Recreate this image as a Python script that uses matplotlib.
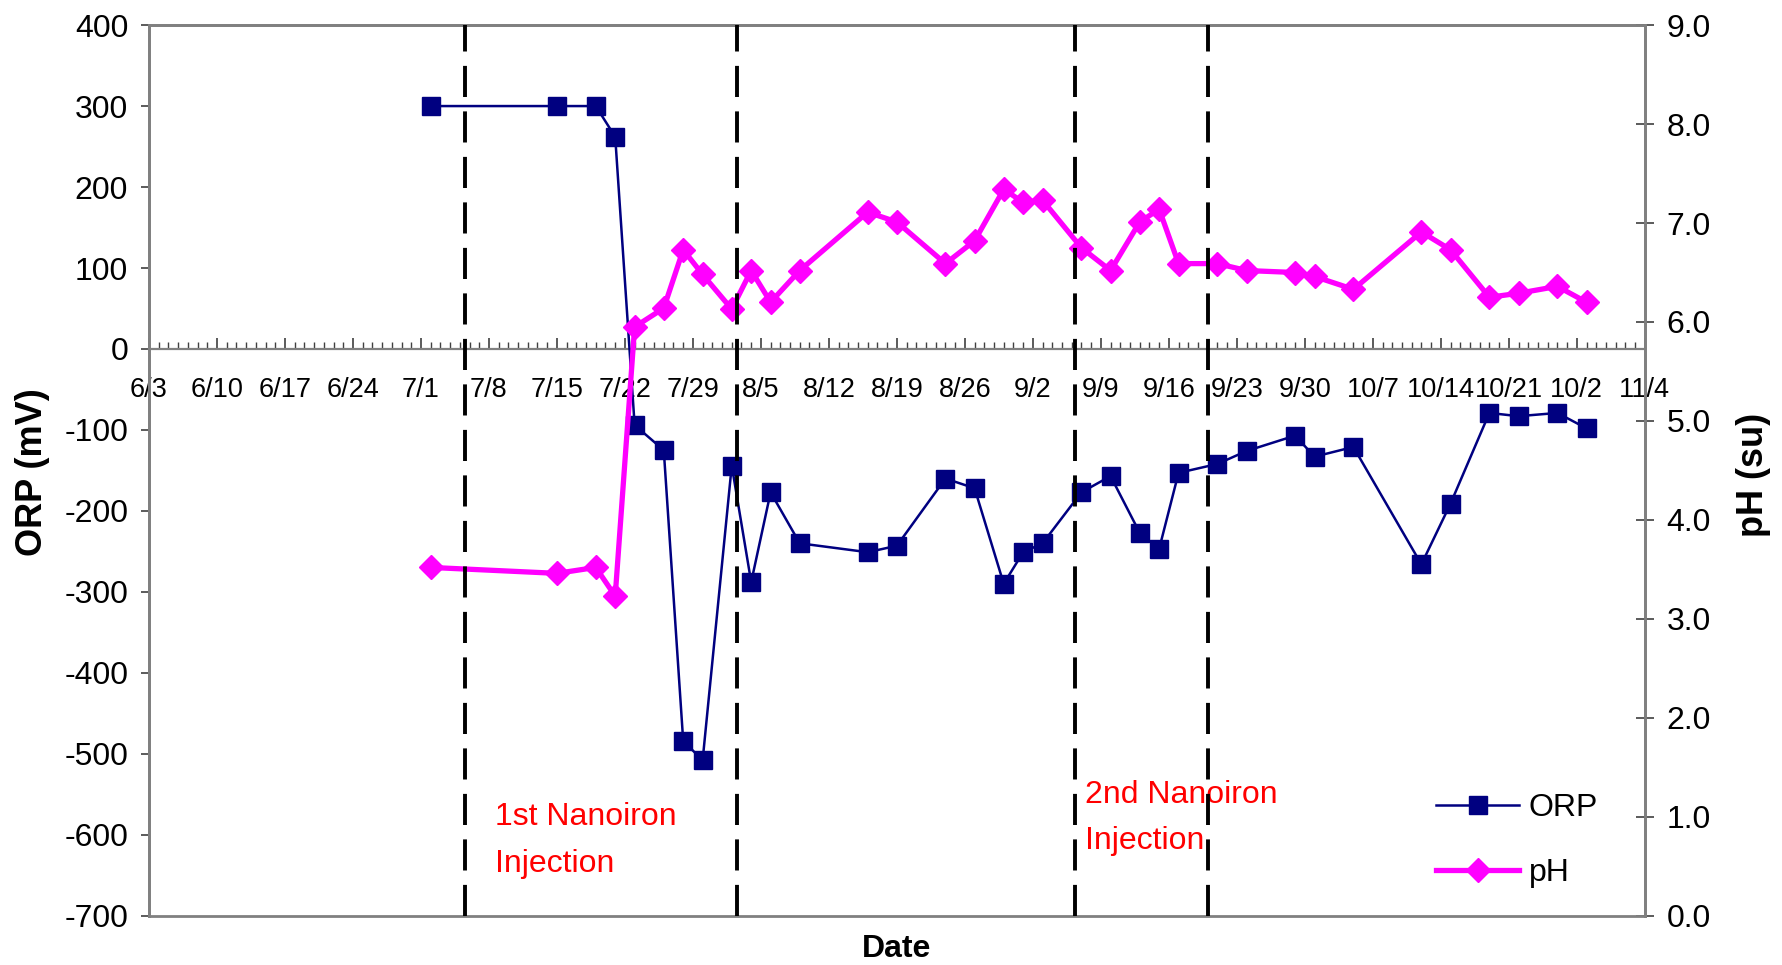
import matplotlib
matplotlib.use("Agg")
import matplotlib.pyplot as plt
import matplotlib.dates as mdates
import pandas as pd

# datas de amostragem (ano fictício, só mês/dia aparecem)
datas = ['7/2', '7/15', '7/19', '7/21', '7/23', '7/26', '7/28', '7/30', '8/2', '8/4',
         '8/6', '8/9', '8/16', '8/19', '8/24', '8/27', '8/30', '9/1', '9/3', '9/7',
         '9/10', '9/13', '9/15', '9/17', '9/21', '9/24', '9/29', '10/1', '10/5', '10/12',
         '10/15', '10/19', '10/22', '10/26', '10/29']
orp = [300, 300, 300, 262, -94, -125, -484, -508, -144, -288,
       -177, -240, -251, -243, -160, -172, -290, -251, -240, -177,
       -157, -227, -247, -153, -142, -126, -107, -133, -121, -266,
       -191, -79, -83, -79, -98]
ph = [3.52, 3.46, 3.52, 3.23, 5.95, 6.14, 6.73, 6.48, 6.13, 6.52,
      6.20, 6.52, 7.11, 7.01, 6.59, 6.82, 7.34, 7.21, 7.23, 6.75,
      6.52, 7.01, 7.14, 6.59, 6.59, 6.52, 6.50, 6.46, 6.33, 6.91,
      6.73, 6.25, 6.29, 6.36, 6.20]

injecoes = ['7/5 12:00', '8/2 14:00', '9/6 08:00', '9/20 00:00']
rotulos_x = ['6/3', '6/10', '6/17', '6/24', '7/1', '7/8', '7/15', '7/22', '7/29', '8/5',
             '8/12', '8/19', '8/26', '9/2', '9/9', '9/16', '9/23', '9/30', '10/7', '10/14',
             '10/21', '10/2', '11/4']

ano = '2005/'
def para_data(lista):
    return pd.to_datetime([ano + d for d in lista])

x = para_data(datas)
inicio = pd.Timestamp('2005-06-03')
fim = pd.Timestamp('2005-11-04')
semanas = list(pd.date_range(inicio, periods=22, freq='7D')) + [fim]

plt.rcParams['font.family'] = ['Liberation Sans', 'DejaVu Sans']
plt.rcParams['axes.unicode_minus'] = False
cinza = '#808080'

fig = plt.figure(figsize=(17.82, 9.65), dpi=100)
ax = fig.add_axes([0.0836, 0.051, 0.8394, 0.923])
ax2 = ax.twinx()

l1, = ax.plot(x, orp, '-s', color='#000080', lw=1.8, ms=12.5, label='ORP', zorder=3)
l2, = ax2.plot(x, ph, '-D', color='#FF00FF', lw=3.8, ms=12, label='pH', zorder=3)

for d in para_data(injecoes):
    ax2.axvline(d, color='black', lw=2.8, linestyle=(0, (8, 3.7)), zorder=5)

ax.set_xlim(inicio, fim)
ax.set_ylim(-700, 400)
ax.set_yticks(range(-700, 401, 100))
ax2.set_ylim(0, 9)
ax2.set_yticks(range(0, 10))
ax2.set_yticklabels([f'{v:.1f}' for v in range(0, 10)])

ax.set_xticks(semanas)
ax.set_xticklabels(rotulos_x)
ax.xaxis.set_minor_locator(mdates.DayLocator())
ax.tick_params(axis='x', which='major', direction='in', length=8, width=1.2, color='#404040',
               pad=20, labelsize=19.5)
ax.tick_params(axis='x', which='minor', direction='in', length=5, width=1.0, color='#404040')
ax.tick_params(axis='y', direction='out', length=6, width=1.2, color='#404040', labelsize=23, pad=9)
ax2.tick_params(axis='y', direction='inout', length=13, width=1.2, color='#404040', labelsize=23, pad=9)

ax.spines['bottom'].set_position(('data', 0))
for s in list(ax.spines.values()) + list(ax2.spines.values()):
    s.set_color(cinza)
    s.set_linewidth(2)
ax.spines['bottom'].set_linewidth(1.6)

fig.text(0.018, 0.511, 'ORP (mV)', rotation=90, ha='center', va='center',
         fontsize=26, fontweight='bold')
fig.text(0.984, 0.508, 'pH (su)', rotation=90, ha='center', va='center',
         fontsize=26, fontweight='bold')
fig.text(0.503, 0.017, 'Date', ha='center', va='center', fontsize=23, fontweight='bold')

ax2.text(pd.Timestamp('2005-07-08 14:00'), 0.76, '1st Nanoiron\nInjection', color='#FF0000',
         fontsize=23, ha='left', va='center', linespacing=1.72, zorder=4)
ax2.text(pd.Timestamp('2005-09-07 10:00'), 0.99, '2nd Nanoiron\nInjection', color='#FF0000',
         fontsize=23, ha='left', va='center', linespacing=1.72, zorder=4)

leg = ax2.legend(handles=[l1, l2], loc='center left', bbox_to_anchor=(0.806, 0.129),
                 bbox_transform=fig.transFigure, frameon=False, fontsize=23,
                 handlelength=2.6, handletextpad=0.3, labelspacing=1.1,
                 borderpad=0, borderaxespad=0)
leg.set_zorder(10)

fig.savefig('out.png', dpi=100)
